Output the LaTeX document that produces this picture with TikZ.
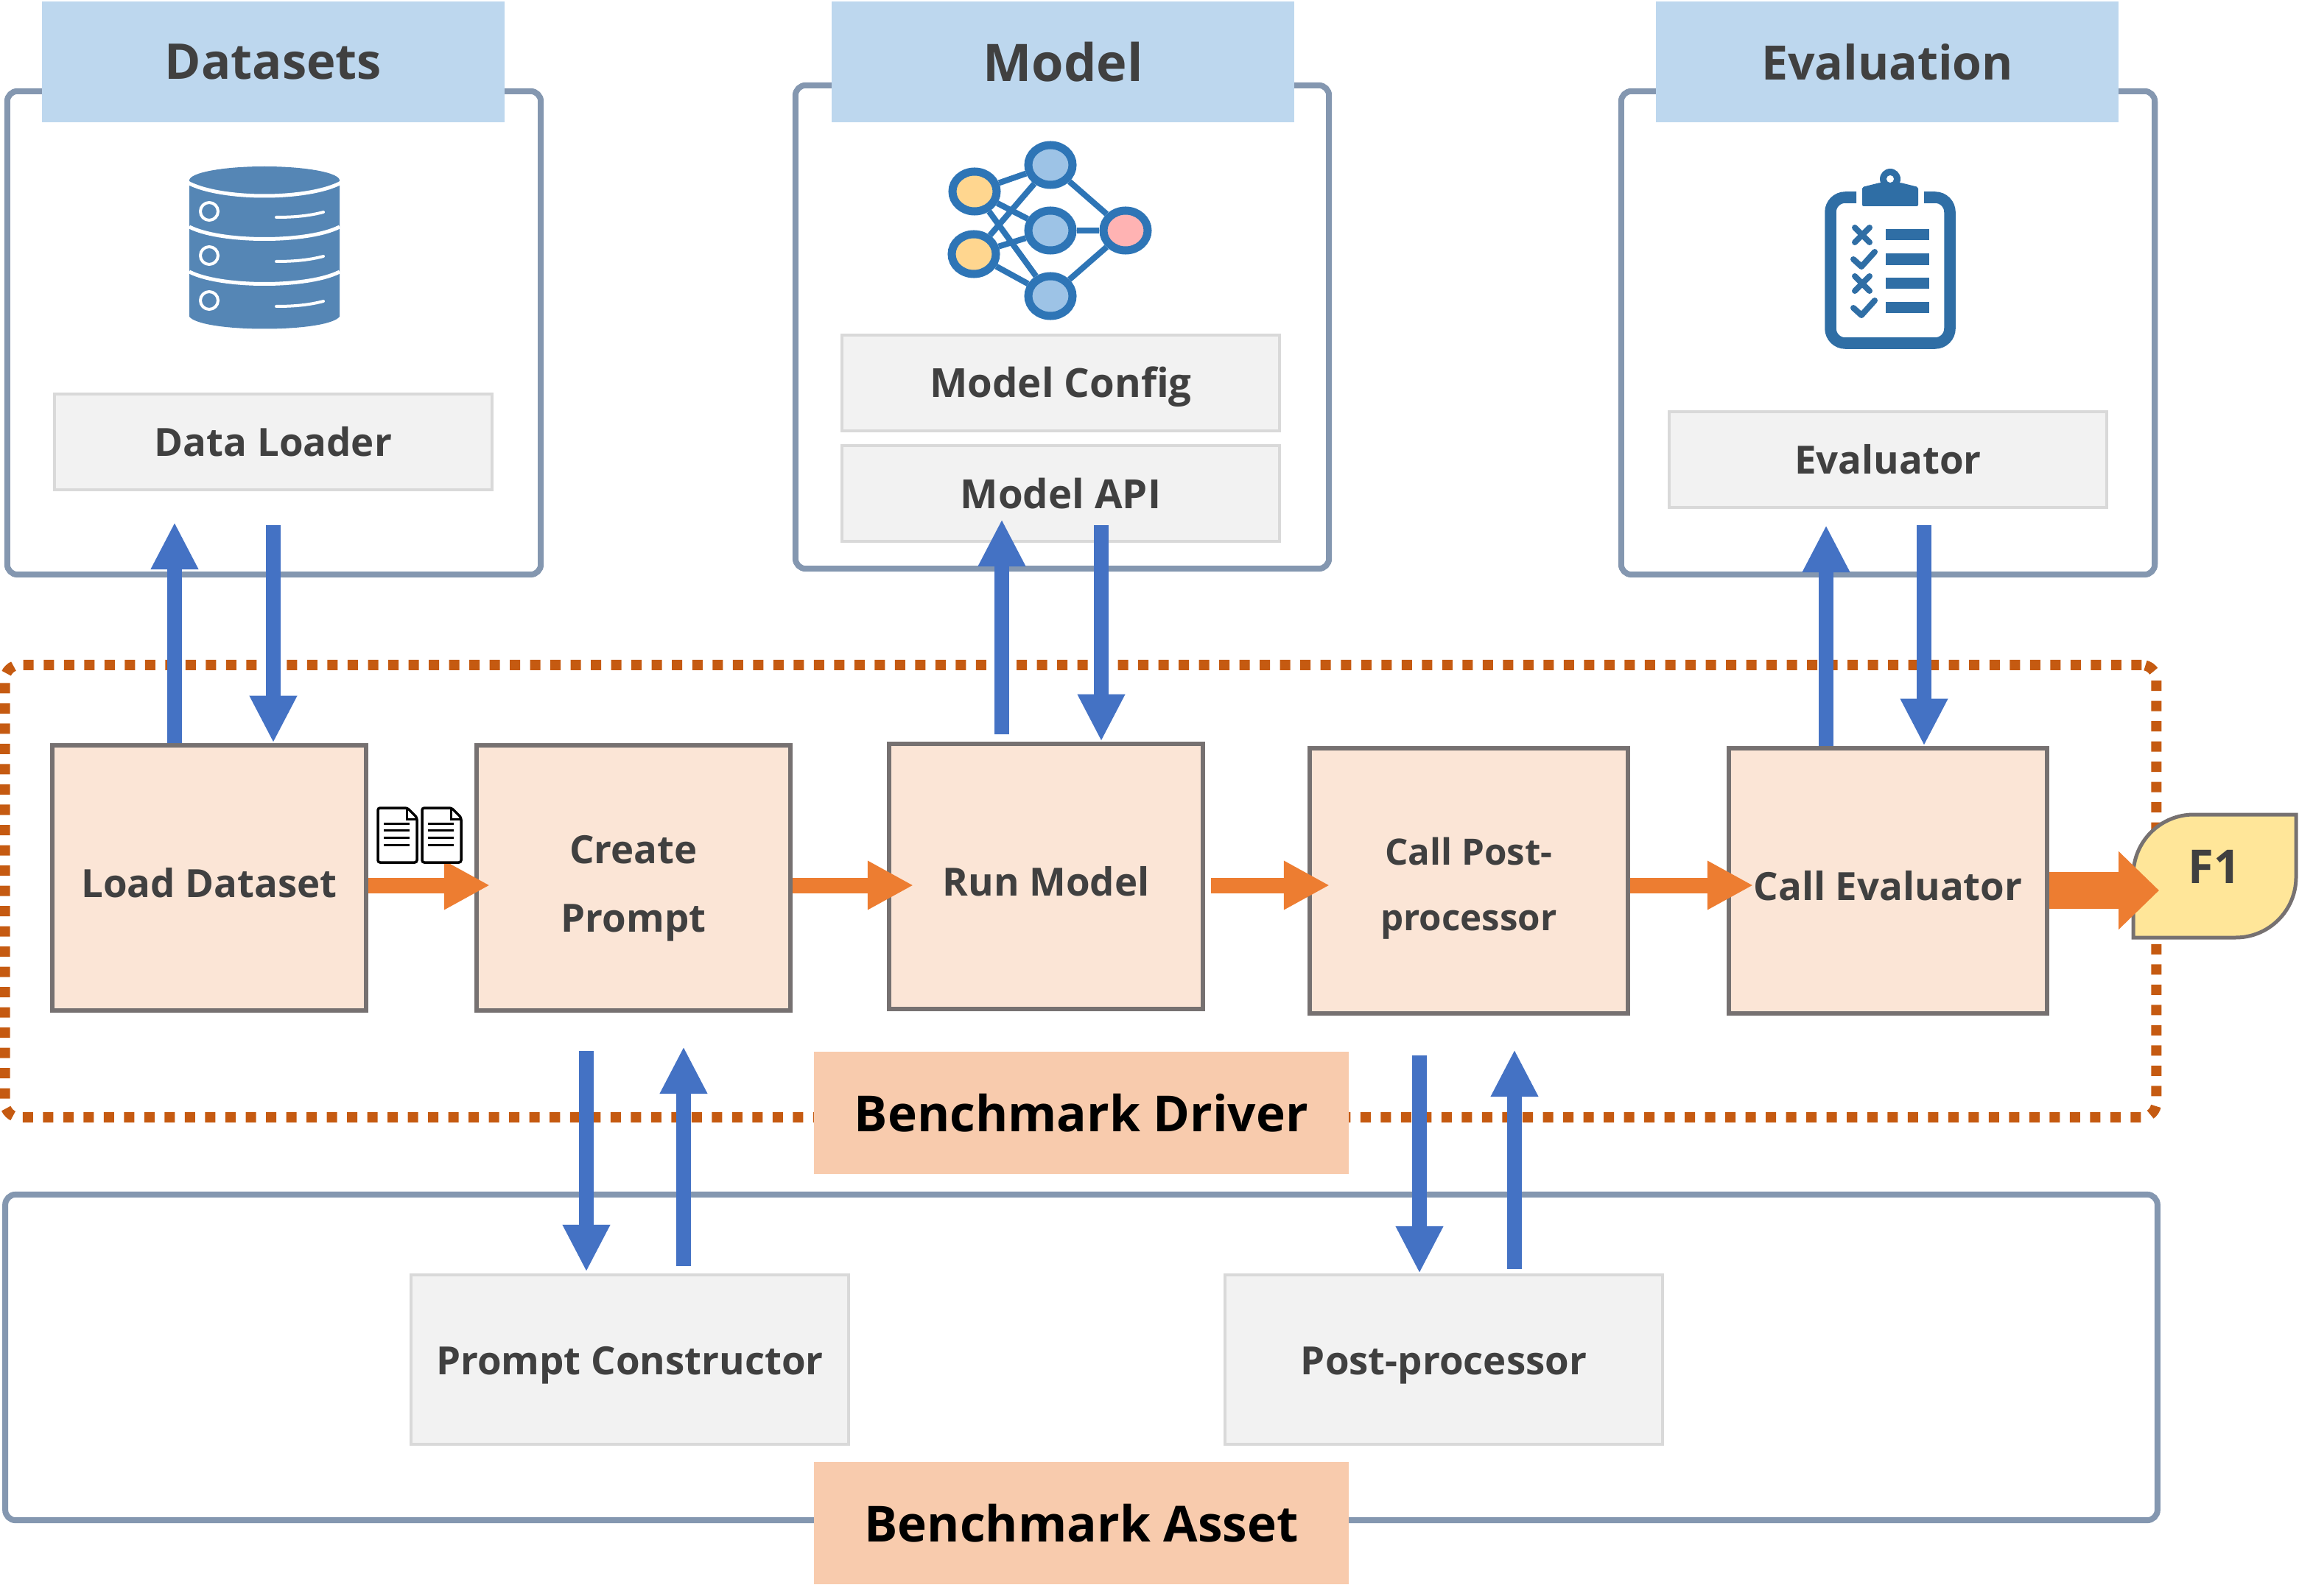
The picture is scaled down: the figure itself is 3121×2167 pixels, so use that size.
\documentclass[tikz,border=0pt]{standalone}
\usepackage{fontspec}
\setmainfont{Open Sans}
\usetikzlibrary{positioning, arrows.meta, shapes.geometric}
\definecolor{txtgrey}{HTML}{404040}
\definecolor{hdrblue}{HTML}{BDD7EE}
\definecolor{frameblue}{HTML}{8497B0}
\definecolor{prfill}{HTML}{FBE5D6}
\definecolor{prline}{HTML}{767171}
\definecolor{lblfill}{HTML}{F8CBAD}
\definecolor{dotline}{HTML}{C55A11}
\definecolor{arrblue}{HTML}{4472C4}
\definecolor{arrorange}{HTML}{ED7D31}
\definecolor{scorefill}{HTML}{FFE699}
\definecolor{dbblue}{HTML}{5586B5}
\definecolor{nnline}{HTML}{2E75B6}
\definecolor{nnyellow}{HTML}{FFD68F}
\definecolor{nnblue}{HTML}{9DC3E6}
\definecolor{nnpink}{HTML}{FFB3B3}
\definecolor{clipblue}{HTML}{2F6EA5}
\tikzset{
  ftxt/.style={font=\fontsize{#1}{#1}\selectfont\bfseries, text=txtgrey},
  frameblk/.style={draw=frameblue, line width=0.08cm, rounded corners=0.14cm,
               minimum width=7.24cm, minimum height=6.56cm},
  hdrblk/.style={fill=hdrblue, ftxt=19pt, minimum width=6.27cm, minimum height=1.63cm},
  gblk/.style={draw=black!15, fill=black!5, line width=0.04cm, ftxt=15pt,
               minimum width=5.93cm, minimum height=1.3cm},
  pblk/.style={draw=prline, fill=prfill, line width=0.065cm, ftxt=15pt, align=center,
               text height=15.4pt, minimum width=4.26cm, minimum height=3.6cm},
  lblblk/.style={fill=lblfill, font=\fontsize{19.2pt}{19.2pt}\selectfont\bfseries,
               minimum width=7.26cm, minimum height=1.65cm},
  barr/.style={-{Triangle[length=0.64cm, width=0.6cm]}, draw=arrblue, line width=0.2cm},
  oarr/.style={-{Triangle[length=0.62cm, width=0.62cm]}, draw=arrorange, line width=0.21cm},
  nnio/.style={ellipse, draw=nnline, line width=0.11cm, inner sep=0pt,
               minimum width=0.6cm, minimum height=0.54cm},
  nnlink/.style={draw=nnline, line width=0.08cm},
  docicon/.pic={
    \draw[black, line width=0.035cm, rounded corners=0.03cm, fill=white]
      (0,0) -- (40,0) -- (53,13) -- (53,74) -- (0,74) -- cycle;
    \draw[black, line width=0.03cm] (39,0) -- (39,15) -- (53,15);
    \draw[black, line width=0.03cm] (8,21) -- (43,21) (8,30) -- (43,30) (8,40) -- (43,40) (8,50) -- (43,50);
  },
}

\begin{document}
\begin{tikzpicture}[x=0.01cm, y=-0.01cm]
  \useasboundingbox (0,0) rectangle (3121,2167);

  % upper frames
  \node[frameblk](dsframe) at (372,452){};
  \node[frameblk](mdframe) at (1442,444){};
  \node[frameblk](evframe) at (2563,452){};
  \node[hdrblk](dshdr) at (371,84){Datasets};
  \node[hdrblk, ftxt=20pt](mdhdr) at (1443,84){Model};
  \node[hdrblk, ftxt=18.3pt](evhdr) at (2562,84){Evaluation};
  \node[gblk](loader) at (371,600){Data Loader};
  \node[gblk, ftxt=15.5pt, text height=14.8pt](mdcfg) at (1440,520){Model Config};
  \node[gblk, ftxt=15.5pt, below=0.16cm of mdcfg](mdapi){Model API};
  \node[gblk](evaluator) at (2563,624){Evaluator};

  % driver and asset frames
  \node[frameblk, minimum width=29.2cm, minimum height=4.42cm](assetframe) at (1468,1843){};
  \node[draw=dotline, line width=0.14cm, dash pattern=on 0.14cm off 0.135cm, rounded corners=0.2cm,
        minimum width=29.19cm, minimum height=6.14cm](drvframe) at (1467,1210){};
  \node[lblblk](drvlbl) at (1468,1511){Benchmark Driver};
  \node[lblblk](assetlbl) at (1468,2068){Benchmark Asset};

  % driver steps
  \node[pblk](load) at (284,1192){Load Dataset};
  \node[pblk, text height=45.5pt](create) at (860,1192){Create\\[0.4cm]Prompt};
  \node[pblk](run) at (1420,1190){Run Model};
  \node[pblk, ftxt=14pt, text height=41.5pt, minimum width=4.32cm](callpp) at (1994,1196){Call Post-\\[0.39cm]processor};
  \node[pblk, minimum width=4.32cm](callev) at (2563,1196){Call Evaluator};
  \node[gblk, minimum height=2.3cm, text height=15.3pt](pcons) at (855,1846){Prompt Constructor};
  \node[gblk, minimum height=2.3cm, text height=15.3pt](ppost) at (1960,1846){Post-processor};

  % result
  \draw[draw=prline, fill=scorefill, line width=0.05cm]
    (2896,1273) [rounded corners=0.82cm] -- (2896,1106) [sharp corners] -- (3117,1106)
    [rounded corners=0.82cm] -- (3117,1273) [sharp corners] -- cycle;
  \node[ftxt=18pt](fone) at (3006,1177){F1};

  % arrow ends
  \coordinate (dsup) at (237,709); \coordinate (dsdn) at (371,713);
  \coordinate (mdup) at (1360,705); \coordinate (mddn) at (1495,713);
  \coordinate (evup) at (2479,713); \coordinate (evdn) at (2612,713);
  \coordinate (pcdn) at (796,1427); \coordinate (pcup) at (928,1421);
  \coordinate (ppdn) at (1927,1433); \coordinate (ppup) at (2056,1425);
  \coordinate (flowa) at (665,1202); \coordinate (flowb) at (1240,1202);
  \coordinate (flowc) at (1805,1202); \coordinate (flowd) at (2380,1202);
  \coordinate (flowe) at (2931,1209);

  \draw[barr](dsup |- load.north)--(dsup); \draw[barr](dsdn)--(dsdn |- load.north);
  \draw[barr, shorten <=0.1cm](mdup |- run.north)--(mdup); \draw[barr](mddn)--(mddn |- run.north);
  \draw[barr](evup |- callev.north)--(evup); \draw[barr](evdn)--(evdn |- callev.north);
  \draw[barr, shorten >=0.02cm](pcdn)--(pcdn |- pcons.north); \draw[barr, shorten <=0.1cm](pcup |- pcons.north)--(pcup);
  \draw[barr](ppdn)--(ppdn |- ppost.north); \draw[barr, shorten <=0.06cm](ppup |- ppost.north)--(ppup);

  \draw[oarr](load.east |- flowa)--(flowa);
  \draw[oarr](create.east |- flowb)--(flowb);
  \draw[oarr]([xshift=0.08cm]run.east |- flowc)--(flowc);
  \draw[oarr](callpp.east |- flowd)--(flowd);
  \draw[draw=arrorange, line width=0.5cm, -{Triangle[length=0.55cm, width=1.03cm]}](callev.east |- flowe)--(flowe);

  % documents
  \pic at (513,1097) {docicon};
  \pic at (573,1097) {docicon};

  % database icon
  \fill[dbblue] (257,250) -- (257,430) .. controls (275,452) and (443,452) .. (461,430) -- (461,250) -- cycle;
  \fill[dbblue] (359,245) ellipse [x radius=102, y radius=19];
  \draw[white, line width=0.05cm] (255,248) .. controls (300,272) and (418,272) .. (463,248);
  \draw[white, line width=0.05cm] (257,308) .. controls (300,330) and (418,330) .. (461,308);
  \draw[white, line width=0.05cm] (257,369) .. controls (300,391) and (418,391) .. (461,369);
  \draw[white, line width=0.04cm] (284,287) circle [radius=12];
  \draw[white, line width=0.04cm] (284,347) circle [radius=12];
  \draw[white, line width=0.04cm] (284,408) circle [radius=12];
  \draw[white, line width=0.04cm, line cap=round] (375,295) .. controls (400,295) and (420,293) .. (439,288);
  \draw[white, line width=0.04cm, line cap=round] (375,355) .. controls (400,355) and (420,353) .. (439,348);
  \draw[white, line width=0.04cm, line cap=round] (375,416) .. controls (400,416) and (420,414) .. (439,409);

  % network icon
  \node[nnio, fill=nnyellow](ina) at (1323,260){};
  \node[nnio, fill=nnyellow](inb) at (1322,345){};
  \node[nnio, fill=nnblue](hida) at (1426,224){};
  \node[nnio, fill=nnblue](hidb) at (1426,313){};
  \node[nnio, fill=nnblue](hidc) at (1426,402){};
  \node[nnio, fill=nnpink](outa) at (1528,313){};
  \draw[nnlink](ina)--(hida); \draw[nnlink](ina)--(hidb); \draw[nnlink](ina)--(hidc);
  \draw[nnlink](inb)--(hida); \draw[nnlink](inb)--(hidb); \draw[nnlink](inb)--(hidc);
  \draw[nnlink](hida)--(outa); \draw[nnlink](hidb)--(outa); \draw[nnlink](hidc)--(outa);

  % clipboard icon
  \draw[clipblue, line width=0.155cm, rounded corners=0.2cm]
    (2520,268) -- (2485,268) -- (2485,466) -- (2647,466) -- (2647,268) -- (2612,268);
  \fill[clipblue, rounded corners=0.02cm] (2528,280) -- (2528,254) -- (2552,248) -- (2580,248) -- (2604,254) -- (2604,280) -- cycle;
  \fill[clipblue] (2566,243) circle [radius=14];
  \fill[white] (2566,243) circle [radius=5];
  \draw[clipblue, line width=0.08cm, line cap=round] (2518,309) -- (2538,329) (2538,309) -- (2518,329);
  \draw[clipblue, line width=0.08cm, line cap=round] (2518,375) -- (2538,395) (2538,375) -- (2518,395);
  \draw[clipblue, line width=0.08cm, line cap=round, line join=round] (2516,352) -- (2527,362) -- (2545,342);
  \draw[clipblue, line width=0.08cm, line cap=round, line join=round] (2516,418) -- (2527,428) -- (2545,408);
  \fill[clipblue] (2560,311) rectangle (2619,326);
  \fill[clipblue] (2560,344) rectangle (2619,360);
  \fill[clipblue] (2560,377) rectangle (2619,392);
  \fill[clipblue] (2560,410) rectangle (2619,425);
\end{tikzpicture}
\end{document}
